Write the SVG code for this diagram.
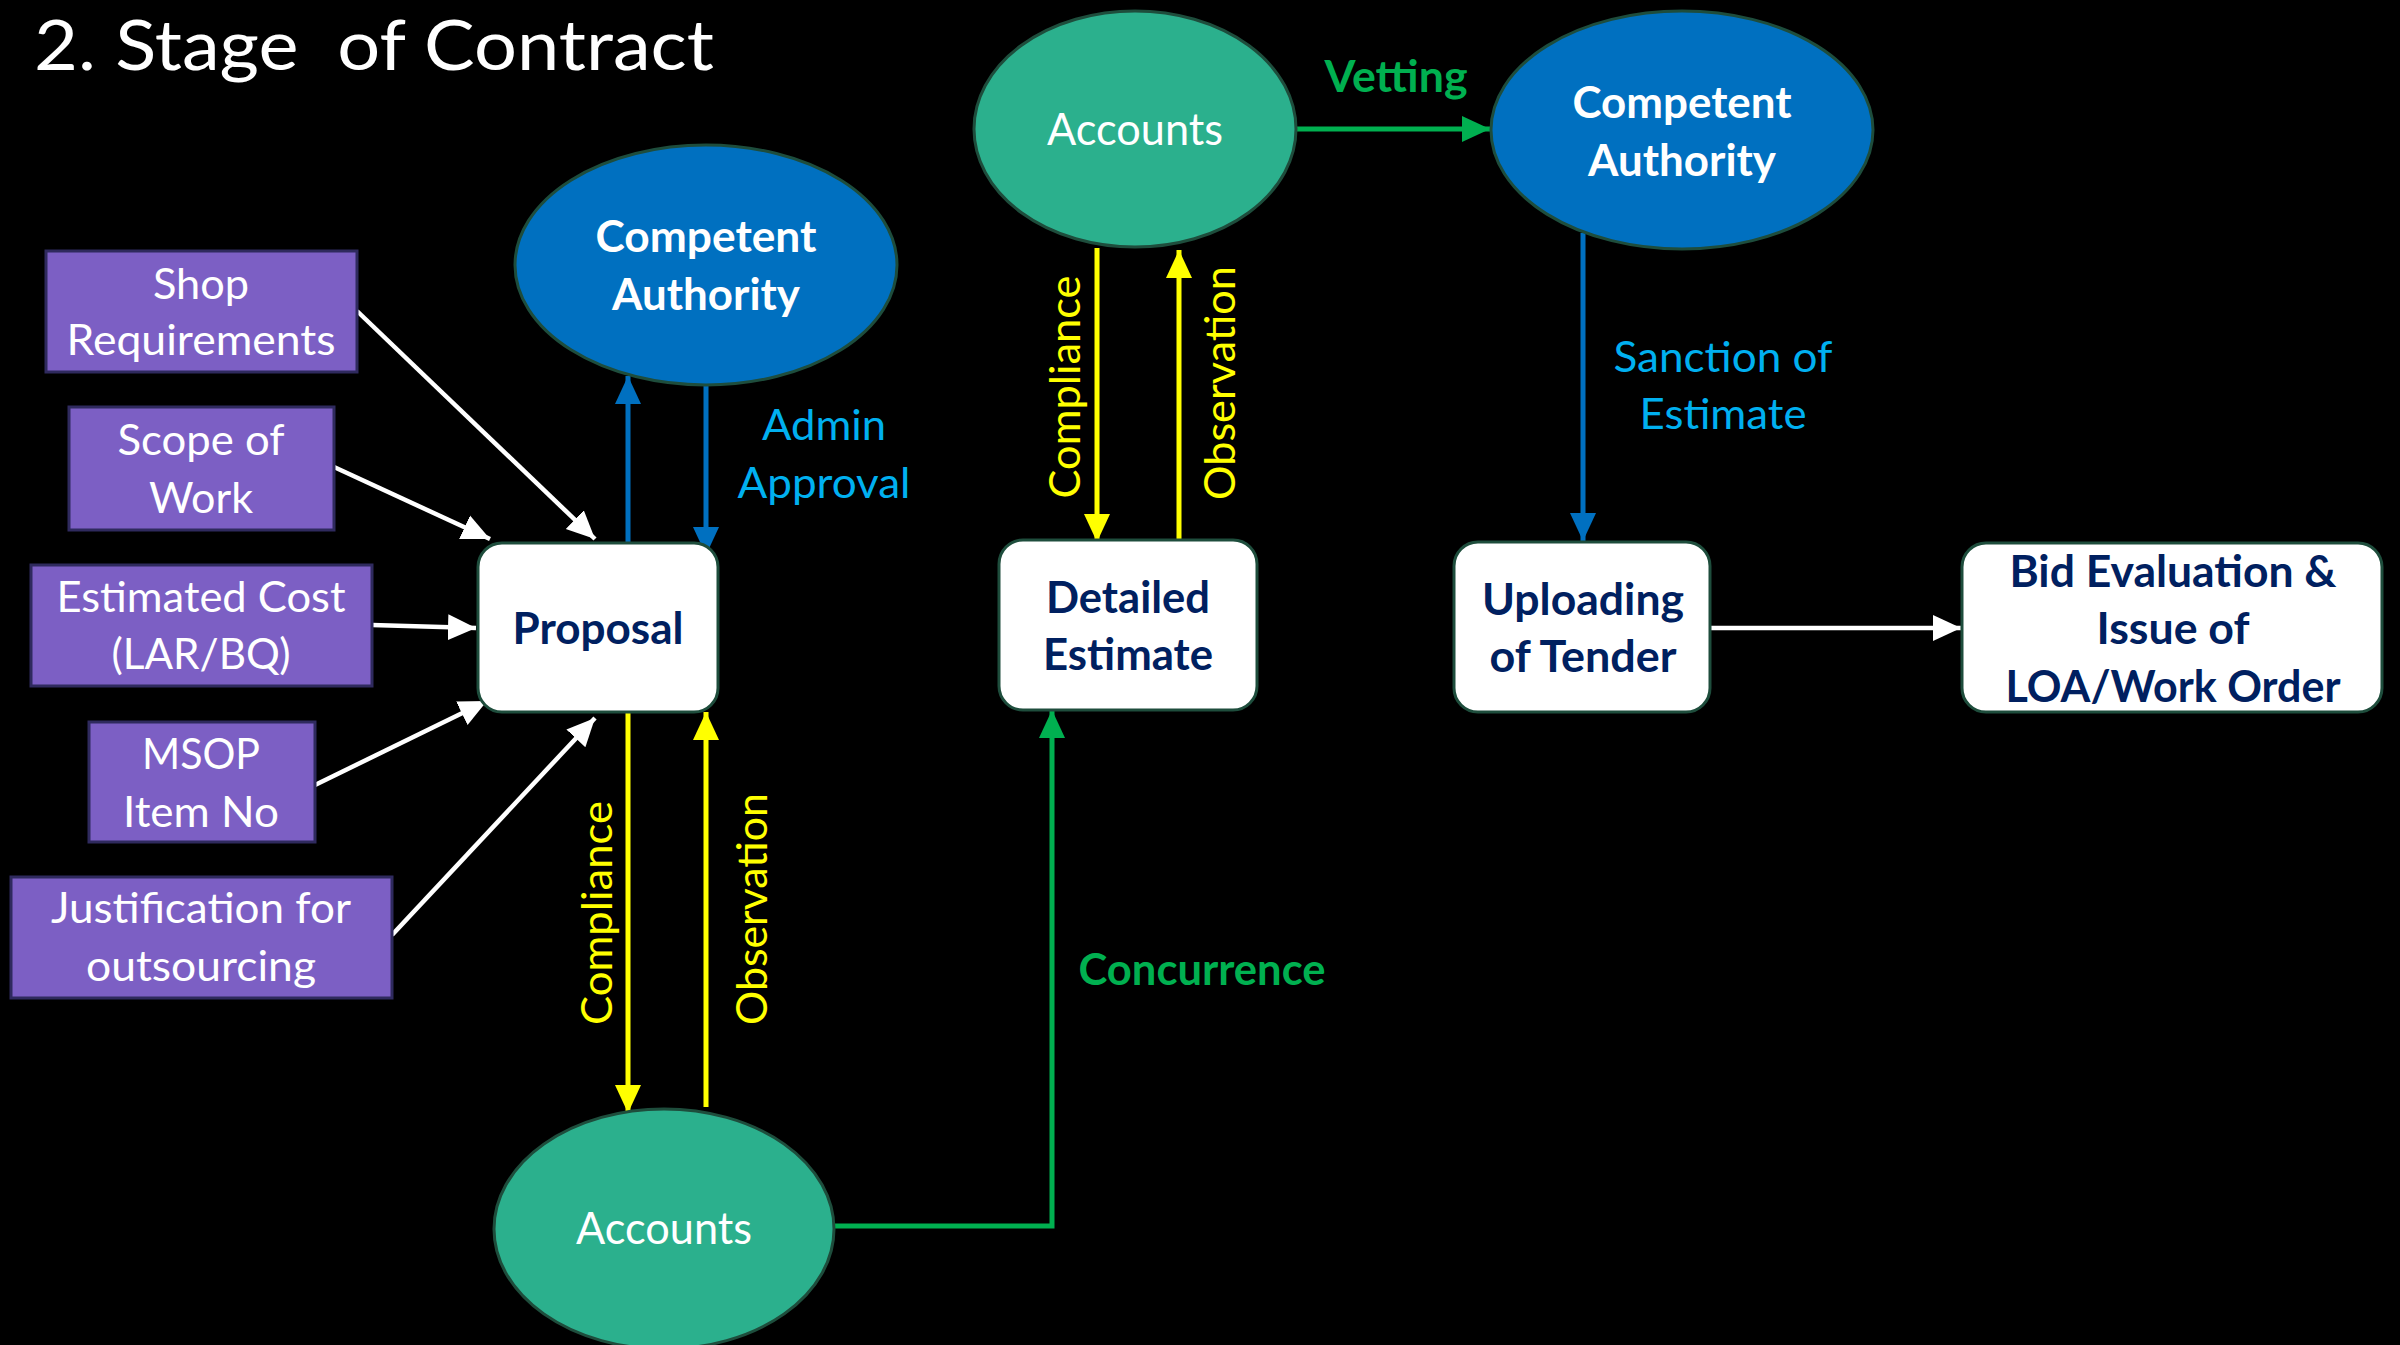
<svg xmlns="http://www.w3.org/2000/svg" width="2400" height="1345" viewBox="0 0 2400 1345">
  <style>
    .bg { fill: #000000; }
    .title { font-family: Lato, "Liberation Sans", sans-serif; font-size: 70px; fill: #ffffff; white-space: pre; }
    .input rect { fill: #7C5FC4; stroke: #2F2A5E; stroke-width: 3; }
    .input text { font-family: Lato, "Liberation Sans", sans-serif; font-size: 42px; fill: #ffffff; text-anchor: middle; }
    .step rect { fill: #ffffff; stroke: #1E4D3C; stroke-width: 3; }
    .step text { font-family: Lato, "Liberation Sans", sans-serif; font-size: 44px; font-weight: bold; fill: #002060; text-anchor: middle; }
    .auth ellipse { fill: #0070C0; stroke: #1E4D3C; stroke-width: 3; }
    .auth text { font-family: Lato, "Liberation Sans", sans-serif; font-size: 44px; font-weight: bold; fill: #ffffff; text-anchor: middle; }
    .acct ellipse { fill: #2BB08D; stroke: #1E4D3C; stroke-width: 3; }
    .acct text { font-family: Lato, "Liberation Sans", sans-serif; font-size: 44px; fill: #ffffff; text-anchor: middle; }
    .lbl { font-family: Lato, "Liberation Sans", sans-serif; font-size: 43px; text-anchor: middle; }
    .w { stroke: #ffffff; stroke-width: 4.5; fill: none; marker-end: url(#ah-white); }
    .b { stroke: #0070C0; stroke-width: 5; fill: none; marker-end: url(#ah-blue); }
    .y { stroke: #FFFF00; stroke-width: 5; fill: none; marker-end: url(#ah-yellow); }
    .g { stroke: #00B050; stroke-width: 5; fill: none; marker-end: url(#ah-green); }
    .cyan { fill: #00B0F0; }
    .yel { fill: #FFFF00; }
    .grn { fill: #00B050; font-weight: bold; }
  </style>
  <defs>
    <marker id="ah-white" markerUnits="userSpaceOnUse" markerWidth="30" markerHeight="30" viewBox="0 0 30 30" refX="28" refY="15" orient="auto">
      <path d="M0,2 L28,15 L0,28 Z" fill="#ffffff"/>
    </marker>
    <marker id="ah-blue" markerUnits="userSpaceOnUse" markerWidth="30" markerHeight="30" viewBox="0 0 30 30" refX="28" refY="15" orient="auto">
      <path d="M0,2 L28,15 L0,28 Z" fill="#0070C0"/>
    </marker>
    <marker id="ah-yellow" markerUnits="userSpaceOnUse" markerWidth="30" markerHeight="30" viewBox="0 0 30 30" refX="28" refY="15" orient="auto">
      <path d="M0,2 L28,15 L0,28 Z" fill="#FFFF00"/>
    </marker>
    <marker id="ah-green" markerUnits="userSpaceOnUse" markerWidth="30" markerHeight="30" viewBox="0 0 30 30" refX="28" refY="15" orient="auto">
      <path d="M0,2 L28,15 L0,28 Z" fill="#00B050"/>
    </marker>
  </defs>

  <rect class="bg" x="0" y="0" width="2400" height="1345"/>

  <text class="title" x="34" y="70" textLength="680" lengthAdjust="spacingAndGlyphs">2. Stage  of Contract</text>

  <!-- connectors -->
  <g id="connectors">
    <!-- inputs into Proposal -->
    <line class="w" x1="357" y1="311" x2="595" y2="539"/>
    <line class="w" x1="334" y1="467" x2="490" y2="539"/>
    <line class="w" x1="372" y1="625" x2="476" y2="628"/>
    <line class="w" x1="315" y1="785" x2="487" y2="701"/>
    <line class="w" x1="392" y1="935" x2="595" y2="718"/>
    <!-- Proposal <-> Competent Authority -->
    <line class="b" x1="628" y1="543" x2="628" y2="376"/>
    <line class="b" x1="706" y1="385" x2="706" y2="555"/>
    <!-- Proposal <-> Accounts -->
    <line class="y" x1="628" y1="712" x2="628" y2="1113"/>
    <line class="y" x1="706" y1="1107" x2="706" y2="712"/>
    <!-- Accounts -> Detailed Estimate -->
    <polyline class="g" points="834,1226 1052,1226 1052,710"/>
    <!-- Detailed Estimate <-> Accounts -->
    <line class="y" x1="1097" y1="248" x2="1097" y2="542"/>
    <line class="y" x1="1179" y1="540" x2="1179" y2="250"/>
    <!-- Accounts -> Competent Authority -->
    <line class="g" x1="1296" y1="129" x2="1490" y2="129"/>
    <!-- Competent Authority -> Uploading -->
    <line class="b" x1="1583" y1="233" x2="1583" y2="541"/>
    <!-- Uploading -> Bid Evaluation -->
    <line class="w" x1="1710" y1="628" x2="1961" y2="628"/>

    <!-- connector labels -->
    <text class="lbl cyan" x="824" y="440" textLength="124" lengthAdjust="spacingAndGlyphs">Admin</text>
    <text class="lbl cyan" x="824" y="498" textLength="173" lengthAdjust="spacingAndGlyphs">Approval</text>
    <text class="lbl yel" transform="translate(612,913) rotate(-90)" textLength="224" lengthAdjust="spacingAndGlyphs">Compliance</text>
    <text class="lbl yel" transform="translate(767,909) rotate(-90)" textLength="232" lengthAdjust="spacingAndGlyphs">Observation</text>
    <text class="lbl grn" x="1202" y="985" textLength="247" lengthAdjust="spacingAndGlyphs">Concurrence</text>
    <text class="lbl yel" transform="translate(1080,387) rotate(-90)" textLength="223" lengthAdjust="spacingAndGlyphs">Compliance</text>
    <text class="lbl yel" transform="translate(1235,383) rotate(-90)" textLength="234" lengthAdjust="spacingAndGlyphs">Observation</text>
    <text class="lbl grn" x="1396" y="92" textLength="143" lengthAdjust="spacingAndGlyphs">Vetting</text>
    <text class="lbl cyan" x="1723" y="372" textLength="219" lengthAdjust="spacingAndGlyphs">Sanction of</text>
    <text class="lbl cyan" x="1723" y="429" textLength="167" lengthAdjust="spacingAndGlyphs">Estimate</text>
  </g>

  <!-- input boxes -->
  <g id="shop-requirements" class="input">
    <rect x="46" y="251" width="311" height="121"/>
    <text x="201" y="299" textLength="96" lengthAdjust="spacingAndGlyphs">Shop</text>
    <text x="201" y="355" textLength="269" lengthAdjust="spacingAndGlyphs">Requirements</text>
  </g>
  <g id="scope-of-work" class="input">
    <rect x="69" y="407" width="265" height="123"/>
    <text x="201" y="455" textLength="167" lengthAdjust="spacingAndGlyphs">Scope of</text>
    <text x="201" y="513" textLength="104" lengthAdjust="spacingAndGlyphs">Work</text>
  </g>
  <g id="estimated-cost" class="input">
    <rect x="31" y="565" width="341" height="121"/>
    <text x="201" y="612" textLength="289" lengthAdjust="spacingAndGlyphs">Estimated Cost</text>
    <text x="201" y="669" textLength="179" lengthAdjust="spacingAndGlyphs">(LAR/BQ)</text>
  </g>
  <g id="msop-item" class="input">
    <rect x="89" y="722" width="226" height="120"/>
    <text x="201" y="769" textLength="118" lengthAdjust="spacingAndGlyphs">MSOP</text>
    <text x="201" y="827" textLength="156" lengthAdjust="spacingAndGlyphs">Item No</text>
  </g>
  <g id="justification" class="input">
    <rect x="11" y="877" width="381" height="121"/>
    <text x="201" y="923" textLength="300" lengthAdjust="spacingAndGlyphs">Justification for</text>
    <text x="201" y="981" textLength="230" lengthAdjust="spacingAndGlyphs">outsourcing</text>
  </g>

  <!-- process steps -->
  <g id="proposal" class="step">
    <rect x="478" y="543" width="240" height="169" rx="24"/>
    <text x="598" y="644" textLength="171" lengthAdjust="spacingAndGlyphs">Proposal</text>
  </g>
  <g id="detailed-estimate" class="step">
    <rect x="999" y="540" width="258" height="170" rx="24"/>
    <text x="1128" y="613" textLength="164" lengthAdjust="spacingAndGlyphs">Detailed</text>
    <text x="1128" y="670" textLength="170" lengthAdjust="spacingAndGlyphs">Estimate</text>
  </g>
  <g id="uploading-tender" class="step">
    <rect x="1454" y="542" width="256" height="170" rx="24"/>
    <text x="1583" y="615" textLength="202" lengthAdjust="spacingAndGlyphs">Uploading</text>
    <text x="1583" y="672" textLength="187" lengthAdjust="spacingAndGlyphs">of Tender</text>
  </g>
  <g id="bid-evaluation" class="step">
    <rect x="1962" y="543" width="420" height="169" rx="24"/>
    <text x="2173" y="587" textLength="327" lengthAdjust="spacingAndGlyphs">Bid Evaluation &amp;</text>
    <text x="2173" y="644" textLength="153" lengthAdjust="spacingAndGlyphs">Issue of</text>
    <text x="2173" y="702" textLength="335" lengthAdjust="spacingAndGlyphs">LOA/Work Order</text>
  </g>

  <!-- authorities -->
  <g id="competent-authority-1" class="auth">
    <ellipse cx="706" cy="265" rx="191" ry="120"/>
    <text x="706" y="252" textLength="221" lengthAdjust="spacingAndGlyphs">Competent</text>
    <text x="706" y="310" textLength="188" lengthAdjust="spacingAndGlyphs">Authority</text>
  </g>
  <g id="competent-authority-2" class="auth">
    <ellipse cx="1682" cy="130" rx="191" ry="119"/>
    <text x="1682" y="118" textLength="219" lengthAdjust="spacingAndGlyphs">Competent</text>
    <text x="1682" y="176" textLength="188" lengthAdjust="spacingAndGlyphs">Authority</text>
  </g>

  <!-- accounts -->
  <g id="accounts-1" class="acct">
    <ellipse cx="664" cy="1229" rx="170" ry="120"/>
    <text x="664" y="1244" textLength="176" lengthAdjust="spacingAndGlyphs">Accounts</text>
  </g>
  <g id="accounts-2" class="acct">
    <ellipse cx="1135" cy="129" rx="161" ry="118"/>
    <text x="1135" y="145" textLength="176" lengthAdjust="spacingAndGlyphs">Accounts</text>
  </g>
</svg>
